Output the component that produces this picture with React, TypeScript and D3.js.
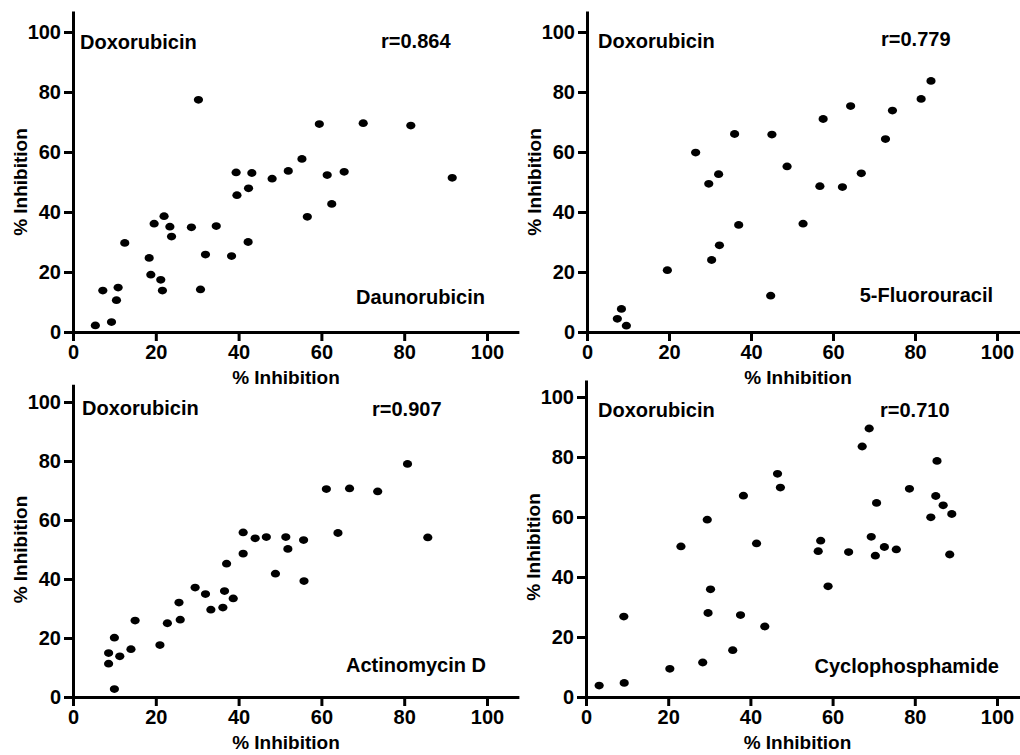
import React from "react";
import * as d3 from "d3";

// Doxorubicin % inhibition (x) vs the second drug % inhibition (y)
const daunoX = [5.4, 7.2, 9.3, 10.5, 10.9, 12.5, 18.4, 18.8, 19.6, 21.2, 21.6, 22.0, 23.4, 23.8, 28.6, 30.3, 30.8, 32.0, 34.6, 38.3, 39.4, 39.6, 42.3, 42.4, 43.2, 48.1, 52.0, 55.3, 56.6, 59.5, 61.4, 62.5, 65.5, 70.1, 81.6, 91.6];
const daunoY = [2.2, 13.8, 3.3, 10.6, 14.8, 29.7, 24.7, 19.1, 36.1, 17.4, 13.8, 38.6, 35.1, 31.8, 34.9, 77.4, 14.2, 25.8, 35.3, 25.3, 53.2, 45.6, 30.0, 47.9, 53.0, 51.1, 53.7, 57.7, 38.4, 69.3, 52.3, 42.7, 53.4, 69.6, 68.8, 51.4];

const fluoroX = [7.4, 8.4, 9.6, 19.6, 26.5, 29.7, 30.4, 32.1, 32.3, 36.0, 37.0, 44.8, 45.1, 48.8, 52.7, 56.8, 57.6, 62.3, 64.3, 66.9, 72.8, 74.5, 81.5, 83.9];
const fluoroY = [4.4, 7.7, 2.1, 20.6, 59.8, 49.4, 24.0, 52.6, 28.9, 66.0, 35.7, 12.1, 65.8, 55.2, 36.1, 48.6, 71.0, 48.3, 75.3, 52.9, 64.3, 73.8, 77.7, 83.7];

const actinoX = [8.6, 8.6, 10.0, 10.0, 11.3, 14.0, 15.0, 21.0, 22.8, 25.6, 25.9, 29.5, 32.0, 33.3, 36.2, 36.6, 37.1, 38.7, 41.1, 41.1, 44.0, 46.7, 48.9, 51.4, 51.9, 55.7, 55.8, 61.2, 64.0, 66.8, 73.6, 80.8, 85.7];
const actinoY = [14.9, 11.3, 20.1, 2.7, 13.8, 16.2, 25.9, 17.6, 25.0, 32.0, 26.2, 37.1, 34.9, 29.6, 30.3, 35.9, 45.2, 33.4, 48.6, 55.8, 53.8, 54.2, 41.8, 54.2, 50.2, 53.2, 39.3, 70.5, 55.6, 70.7, 69.7, 79.0, 54.1];

const cycloX = [3.2, 9.2, 9.3, 20.4, 23.1, 28.4, 29.5, 29.7, 30.3, 35.7, 37.6, 38.3, 41.5, 43.5, 46.6, 47.3, 56.5, 57.1, 58.9, 63.9, 67.2, 68.9, 69.4, 70.4, 70.7, 72.6, 75.5, 78.7, 83.9, 85.1, 85.4, 86.9, 88.5, 89.0];
const cycloY = [3.8, 26.8, 4.7, 9.4, 50.2, 11.5, 59.1, 28.0, 35.9, 15.6, 27.3, 67.1, 51.2, 23.5, 74.4, 69.8, 48.6, 52.1, 36.9, 48.3, 83.5, 89.5, 53.4, 47.1, 64.7, 50.0, 49.2, 69.4, 59.9, 67.0, 78.7, 63.9, 47.5, 61.0];

const tickValues = [0, 20, 40, 60, 80, 100];
const drugNames = ["Daunorubicin", "5-Fluorouracil", "Actinomycin D", "Cyclophosphamide"];
const rValues = ["r=0.864", "r=0.779", "r=0.907", "r=0.710"];

const FONT = "'Liberation Sans', Arial, Helvetica, sans-serif";

const panels = [
  { xs: daunoX, ys: daunoY, x: [73, 487], y: [332, 32], xMax: 107.7, yMax: 107, dox: [80, 49], r: [381, 48], drug: [485, 304] },
  { xs: fluoroX, ys: fluoroY, x: [587, 997], y: [332, 32], xMax: 108, yMax: 107, dox: [598, 48], r: [881, 46], drug: [993, 302] },
  { xs: actinoX, ys: actinoY, x: [73, 487], y: [697, 402], xMax: 107.7, yMax: 106, dox: [82, 415], r: [372, 416], drug: [486, 672] },
  { xs: cycloX, ys: cycloY, x: [586, 997], y: [697, 397], xMax: 108, yMax: 105.7, dox: [598, 417], r: [880, 417], drug: [999, 673] },
];

const App = () => {
  const svgRef = React.useRef(null);

  React.useEffect(() => {
    const svg = d3.select(svgRef.current);
    svg.selectAll("*").remove();

    panels.forEach((p, i) => {
      const xScale = d3.scaleLinear().domain([0, 100]).range(p.x);
      const yScale = d3.scaleLinear().domain([0, 100]).range(p.y);
      // axis lines run a bit past 100
      const xAxisScale = d3.scaleLinear().domain([0, p.xMax]).range([xScale(0), xScale(p.xMax)]);
      const yAxisScale = d3.scaleLinear().domain([0, p.yMax]).range([yScale(0), yScale(p.yMax)]);

      const g = svg.append("g");

      const xAxis = g
        .append("g")
        .attr("transform", `translate(0,${yScale(0)})`)
        .call(d3.axisBottom(xAxisScale).tickValues(tickValues).tickSize(9).tickSizeOuter(0).tickPadding(4));

      const yAxis = g
        .append("g")
        .attr("transform", `translate(${xScale(0)},0)`)
        .call(d3.axisLeft(yAxisScale).tickValues(tickValues).tickSize(9).tickSizeOuter(0).tickPadding(3));

      [xAxis, yAxis].forEach((a) => {
        a.selectAll("path, line").attr("stroke", "#000").attr("stroke-width", 3);
        a.selectAll("text")
          .attr("fill", "#000")
          .style("font-family", FONT)
          .style("font-weight", "bold")
          .style("font-size", "20px");
      });

      // axis titles
      g.append("text")
        .attr("x", (p.x[0] + p.x[1]) / 2 + 6)
        .attr("y", yScale(0) + 52)
        .attr("text-anchor", "middle")
        .style("font-family", FONT)
        .style("font-weight", "bold")
        .style("font-size", "19px")
        .text("% Inhibition");

      g.append("text")
        .attr("transform", `translate(${xScale(0) - 46},${(p.y[0] + p.y[1]) / 2}) rotate(-90)`)
        .attr("text-anchor", "middle")
        .style("font-family", FONT)
        .style("font-weight", "bold")
        .style("font-size", "19px")
        .text("% Inhibition");

      // labels
      const label = (txt, pos, anchor) =>
        g.append("text")
          .attr("x", pos[0])
          .attr("y", pos[1])
          .attr("text-anchor", anchor)
          .style("font-family", FONT)
          .style("font-weight", "bold")
          .style("font-size", "20px")
          .text(txt);

      label("Doxorubicin", p.dox, "start");
      label(rValues[i], p.r, "start");
      label(drugNames[i], p.drug, "end");

      // points
      g.selectAll("ellipse")
        .data(p.xs.map((d, j) => [d, p.ys[j]]))
        .join("ellipse")
        .attr("cx", (d) => xScale(d[0]))
        .attr("cy", (d) => yScale(d[1]))
        .attr("rx", 4.6)
        .attr("ry", 3.9)
        .attr("fill", "#000");
    });
  }, []);

  return (
    <svg
      ref={svgRef}
      width={1020}
      height={755}
      style={{ position: "absolute", left: 0, top: 0, background: "#fff" }}
    />
  );
};

export default App;
